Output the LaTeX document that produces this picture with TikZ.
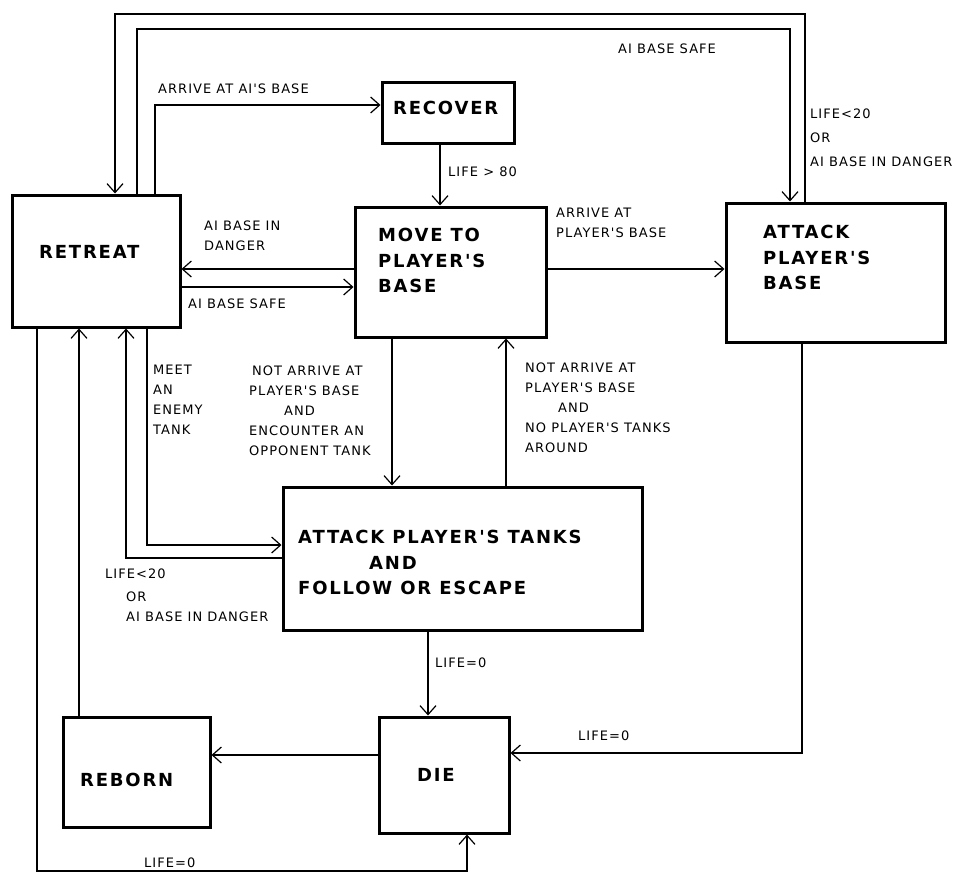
\documentclass[tikz,border=0pt]{standalone}
\usepackage{fontspec}
\setmainfont{DejaVu Sans}
\newfontfamily\labfont[LetterSpace=8]{DejaVu Sans}
\newfontfamily\statefont[LetterSpace=10]{DejaVu Sans}
\usetikzlibrary{arrows.meta}
\tikzset{
  stbox/.style={draw,rectangle,line width=3pt,inner sep=0pt},
  stxt/.style={font=\statefont\bfseries\fontsize{18}{25.5}\selectfont,align=left,inner sep=0pt,anchor=north west},
  lab/.style={font=\labfont\fontsize{13}{20}\selectfont,align=left,inner sep=0pt,anchor=north west},
  arr/.style={line width=1.2pt,-{Straight Barb[length=9pt,width=16pt,line width=1.2pt]}},
}
\begin{document}
\begin{tikzpicture}[x=1pt,y=-1pt]
  \useasboundingbox (0,0) rectangle (955,875);
  % states
  \node[stbox,minimum width=168pt,minimum height=132pt] (retreat) at (96,261) {};
  \node[stbox,minimum width=132pt,minimum height=61pt] (recover) at (448,112.5) {};
  \node[stbox,minimum width=191pt,minimum height=130pt] (move) at (450.5,272) {};
  \node[stbox,minimum width=219pt,minimum height=139pt] (atkbase) at (835.5,272.5) {};
  \node[stbox,minimum width=359pt,minimum height=143pt] (atktank) at (462.5,558.5) {};
  \node[stbox,minimum width=147pt,minimum height=110pt] (reborn) at (136.5,772) {};
  \node[stbox,minimum width=130pt,minimum height=116pt] (die) at (444,775) {};
  \node[stxt,anchor=west] (retreat-t) at (39,252) {RETREAT};
  \node[stxt,anchor=west] (recover-t) at (393,108) {RECOVER};
  \node[stxt] (move-t) at (378,228.4) {MOVE TO\\PLAYER'S\\BASE};
  \node[stxt] (atkbase-t) at (763,225.4) {ATTACK\\PLAYER'S\\BASE};
  \node[stxt] (atktank-t) at (298,530.4) {ATTACK PLAYER'S TANKS\\\hspace*{71pt}AND\\FOLLOW OR ESCAPE};
  \node[stxt,anchor=west] (reborn-t) at (80,780) {REBORN};
  \node[stxt,anchor=west] (die-t) at (417,775) {DIE};
  % bends
  \coordinate (ai) at (155,105);
  \coordinate (rc) at (440,0);
  \coordinate (dg) at (0,269);
  \coordinate (sf) at (0,287);
  \coordinate (outL) at (115,14);
  \coordinate (outR) at (805,14);
  \coordinate (inL) at (137,29);
  \coordinate (inR) at (790,29);
  \coordinate (dn) at (392,0);
  \coordinate (up) at (506,0);
  \coordinate (meet) at (147,545);
  \coordinate (flee) at (126,558);
  \coordinate (ld) at (428,0);
  \coordinate (bd) at (802,753);
  \coordinate (rb) at (0,755);
  \coordinate (rr) at (79,0);
  \coordinate (botL) at (37,871);
  \coordinate (botR) at (467,871);
  % transitions
  \draw[arr] (retreat.north -| ai) |- (recover.west |- ai);
  \draw[arr] (recover.south -| rc) -- (move.north -| rc);
  \draw[arr] (move.west |- dg) -- (retreat.east |- dg);
  \draw[arr] (retreat.east |- sf) -- (move.west |- sf);
  \draw[arr] (move.east |- dg) -- (atkbase.west |- dg);
  \draw[arr] (atkbase.north -| outR) -- (outR) -- (outL) -- (retreat.north -| outL);
  \draw[arr] (retreat.north -| inL) -- (inL) -- (inR) -- (atkbase.north -| inR);
  \draw[arr] (move.south -| dn) -- (atktank.north -| dn);
  \draw[arr] (atktank.north -| up) -- (move.south -| up);
  \draw[arr] (retreat.south -| meet) |- (atktank.west |- meet);
  \draw[arr] (atktank.west |- flee) -| (retreat.south -| flee);
  \draw[arr] (atktank.south -| ld) -- (die.north -| ld);
  \draw[arr] (atkbase.south -| bd) |- (die.east |- bd);
  \draw[arr] (die.west |- rb) -- (reborn.east |- rb);
  \draw[arr] (reborn.north -| rr) -- (retreat.south -| rr);
  \draw[arr] (retreat.south -| botL) -- (botL) -- (botR) -- (die.south -| botR);
  % conditions
  \node[lab,anchor=west] (l-ai) at (158,89) {ARRIVE AT AI'S BASE};
  \node[lab,anchor=west] (l-safe1) at (618,49) {AI BASE SAFE};
  \node[lab] (l-flee1) at (810,108.3) {LIFE<20\\[4.5pt]OR\\[4pt]AI BASE IN DANGER};
  \node[lab,anchor=west] (l-80) at (448,172) {LIFE > 80};
  \node[lab] (l-dg) at (204,220.3) {AI BASE IN\\DANGER};
  \node[lab,anchor=west] (l-safe2) at (188,304) {AI BASE SAFE};
  \node[lab] (l-arr) at (556,208.3) {ARRIVE AT\\PLAYER'S BASE};
  \node[lab] (l-meet) at (153,365.3) {MEET\\AN\\ENEMY\\TANK};
  \node[lab] (l-enc) at (249,365.3) {\hspace*{3pt}NOT ARRIVE AT\\PLAYER'S BASE\\\hspace*{35pt}AND\\ENCOUNTER AN\\OPPONENT TANK};
  \node[lab] (l-no) at (525,362.3) {NOT ARRIVE AT\\PLAYER'S BASE\\\hspace*{33pt}AND\\NO PLAYER'S TANKS\\AROUND};
  \node[lab] (l-flee2) at (105,568.3) {LIFE<20\\[3pt]\hspace*{21pt}OR\\\hspace*{21pt}AI BASE IN DANGER};
  \node[lab,anchor=west] (l-die1) at (435,663) {LIFE=0};
  \node[lab,anchor=west] (l-die2) at (578,736) {LIFE=0};
  \node[lab,anchor=west] (l-die3) at (144,863) {LIFE=0};
\end{tikzpicture}
\end{document}
